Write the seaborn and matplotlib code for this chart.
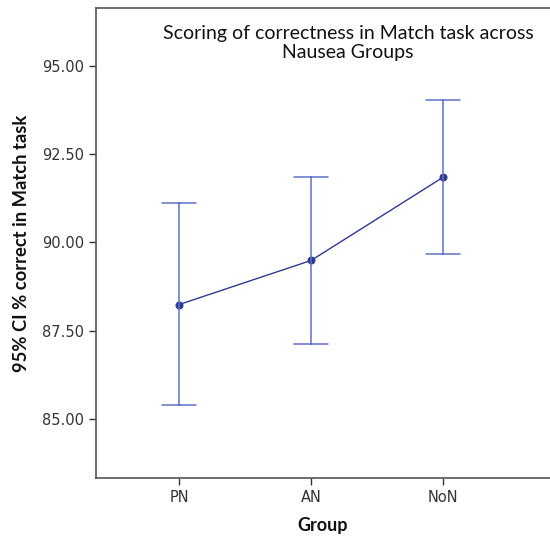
import matplotlib
matplotlib.use("Agg")
import matplotlib.pyplot as plt
import seaborn as sns
import pandas as pd

# values (mean and 95% CI bounds)
groups = ["PN", "AN", "NoN"]
means = [88.24, 89.49, 91.85]
ci_low = [85.40, 87.13, 89.66]
ci_high = [91.11, 91.85, 94.03]
yticks = [85.0, 87.5, 90.0, 92.5, 95.0]

# long table: median of (low, mean, high) is the mean, full range is the CI
rows = []
for g, lo, m, hi in zip(groups, ci_low, means, ci_high):
    for v in (lo, m, hi):
        rows.append({"Group": g, "value": v})
df = pd.DataFrame(rows)

sns.set_style("white")
plt.rcParams["font.family"] = ["DejaVu Sans"]

fig = plt.figure(figsize=(5.5, 5.37), dpi=100)
ax = fig.add_axes([96 / 550, 1 - 478 / 537, 454 / 550, 470 / 537])

sns.pointplot(data=df, x="Group", y="value", order=groups,
              estimator="median", errorbar=("pi", 100),
              color="#2e3a8f", markersize=5, linewidth=1,
              capsize=0.26, err_kws={"color": "#5f70c6", "linewidth": 1.1},
              ax=ax)

ax.set_xlim(-0.63, 2.81)
ax.set_ylim(83.32, 96.65)
ax.set_yticks(yticks)
ax.set_yticklabels([f"{t:.2f}" for t in yticks])

for side in ["left", "bottom", "top"]:
    ax.spines[side].set_color("#555555")
    ax.spines[side].set_linewidth(1.2)
ax.spines["right"].set_visible(False)
ax.tick_params(axis="both", direction="out", length=5, width=1,
               color="#333333", labelcolor="#333333", labelsize=10.5,
               left=True, bottom=True)

ax.set_xlabel("Group", fontsize=13, fontweight="bold", family="Lato",
              color="#111111", labelpad=9)
ax.set_ylabel("95% CI % correct in Match task", fontsize=13.2,
              fontweight="bold", family="Lato", color="#111111", labelpad=9)

fig.text(348 / 550, 1 - 43 / 537,
         "Scoring of correctness in Match task across\nNausea Groups",
         ha="center", va="center", fontsize=14, family="Lato",
         color="#111111", linespacing=1.12)

fig.savefig("out.png", dpi=100, facecolor="white")
